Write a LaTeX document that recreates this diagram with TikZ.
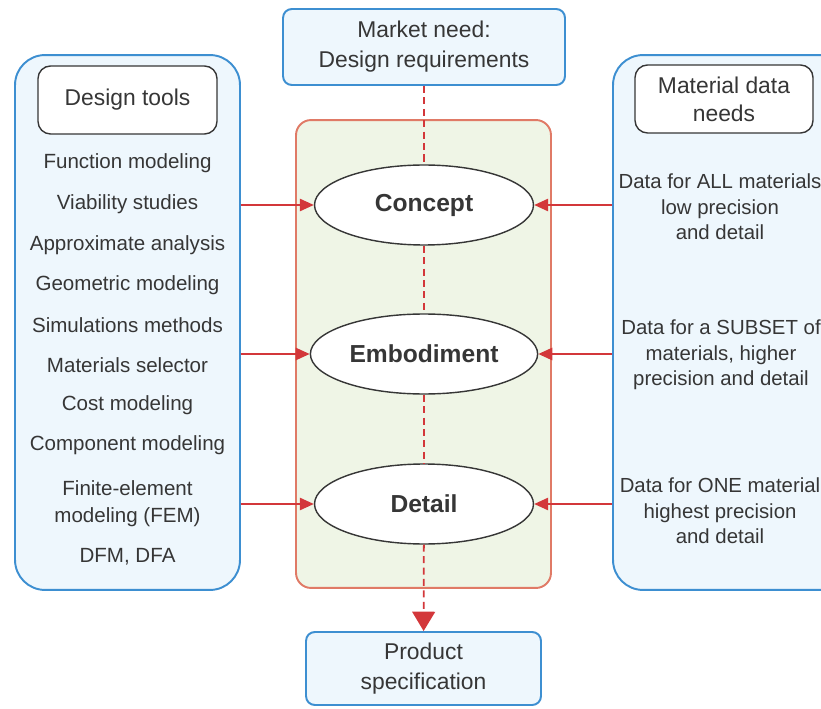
\documentclass[tikz,border=0pt]{standalone}
\usepackage{fontspec}
\setmainfont{Liberation Sans}
\usetikzlibrary{shapes.geometric,arrows.meta,calc,positioning}

\definecolor{panelblue}{HTML}{3D8FD1}
\definecolor{panelfill}{HTML}{EEF7FD}
\definecolor{stagefill}{HTML}{EFF5E6}
\definecolor{stageline}{HTML}{E07A66}
\definecolor{flowred}{HTML}{D3373A}
\definecolor{txtgray}{HTML}{363636}

\tikzset{
  endbox/.style={draw=panelblue,fill=panelfill,line width=1.1pt,rounded corners=5pt,
    minimum width=5.64cm,minimum height=1.52cm,align=center,text=txtgray,
    font=\fontsize{13}{17}\selectfont},
  panel/.style={draw=panelblue,fill=panelfill,line width=1.1pt,rounded corners=0.6cm,
    minimum width=4.5cm,minimum height=10.7cm},
  headbox/.style={draw=txtgray,fill=white,line width=0.8pt,rounded corners=0.25cm,
    minimum width=3.58cm,minimum height=1.36cm,align=center,text=txtgray,
    font=\fontsize{13}{16}\selectfont},
  stagebox/.style={draw=stageline,fill=stagefill,line width=1.1pt,rounded corners=0.3cm,
    minimum width=5.1cm,minimum height=9.36cm},
  stage/.style={ellipse,draw=txtgray,fill=white,line width=0.8pt,minimum width=4.38cm,
    minimum height=1.6cm,text=txtgray,font=\fontsize{14}{16}\selectfont\bfseries},
  item/.style={align=center,text=txtgray,font=\fontsize{11.7}{15.4}\selectfont},
  note/.style={align=center,text=txtgray,font=\fontsize{11.6}{14.5}\selectfont},
  feed/.style={draw=flowred,line width=1.1pt,-{Triangle[length=8pt,width=7pt]}},
  flow/.style={draw=flowred,line width=1pt,dash pattern=on 4pt off 2.5pt}
}

\begin{document}
\begin{tikzpicture}[x=0.02cm,y=-0.02cm,line join=round]
\useasboundingbox (0,0) rectangle (821,709);
\clip (0,0) rectangle (821,709);
% panels
\node[panel] (toolpanel) at (127.5,322.5) {};
\node[panel,minimum width=4.74cm] (datapanel) at (731.5,322.5) {};
\node[stagebox] (stages) at (423.5,354) {};
\node[headbox] (tools) at (127.5,100) {Design tools};
\node[headbox,minimum width=3.56cm] (needs) at (724,99) {Material data\\needs};
% start and end
\node[endbox] (need) at (424,47) {Market need:\\Design requirements};
\node[endbox,minimum width=4.7cm,minimum height=1.46cm] (spec) at (423.5,668.5) {Product\\specification};
% stages
\node[stage] (concept) at (424,205) {Concept};
\node[stage] (embodiment) at (424,354) {Embodiment};
\node[stage] (detail) at (424,504) {Detail};
% design tools list
\foreach \t/\y [count=\n] in {{Function modeling}/163,{Viability studies}/204,
  {Approximate analysis}/245,{Geometric modeling}/285,{Simulations methods}/325,
  {Materials selector}/365,{Cost modeling}/405,{Component modeling}/445,
  {Finite-element\\modeling (FEM)}/504,{DFM, DFA}/557}
  {\node[item] (tool\n) at (127.5,\y) {\t};}
% material data needs
\node[note] (allmat) at (720,207) {Data for ALL materials\\low precision\\and detail};
\node[note] (submat) at (721,355) {Data for a SUBSET of\\materials, higher\\precision and detail};
\node[note] (onemat) at (720,511) {Data for ONE material\\highest precision\\and detail};
% flow
\draw[flow] (need) -- (concept);
\draw[flow] (concept) -- (embodiment);
\draw[flow] (embodiment) -- (detail);
\draw[flow,-{Triangle[length=11pt,width=13pt]}] (detail) -- (spec);
% feeds
\foreach \s in {concept,embodiment,detail}{
  \draw[feed] (toolpanel.east |- \s.west) -- (\s.west);
  \draw[feed] (datapanel.west |- \s.east) -- (\s.east);}
\end{tikzpicture}
\end{document}
